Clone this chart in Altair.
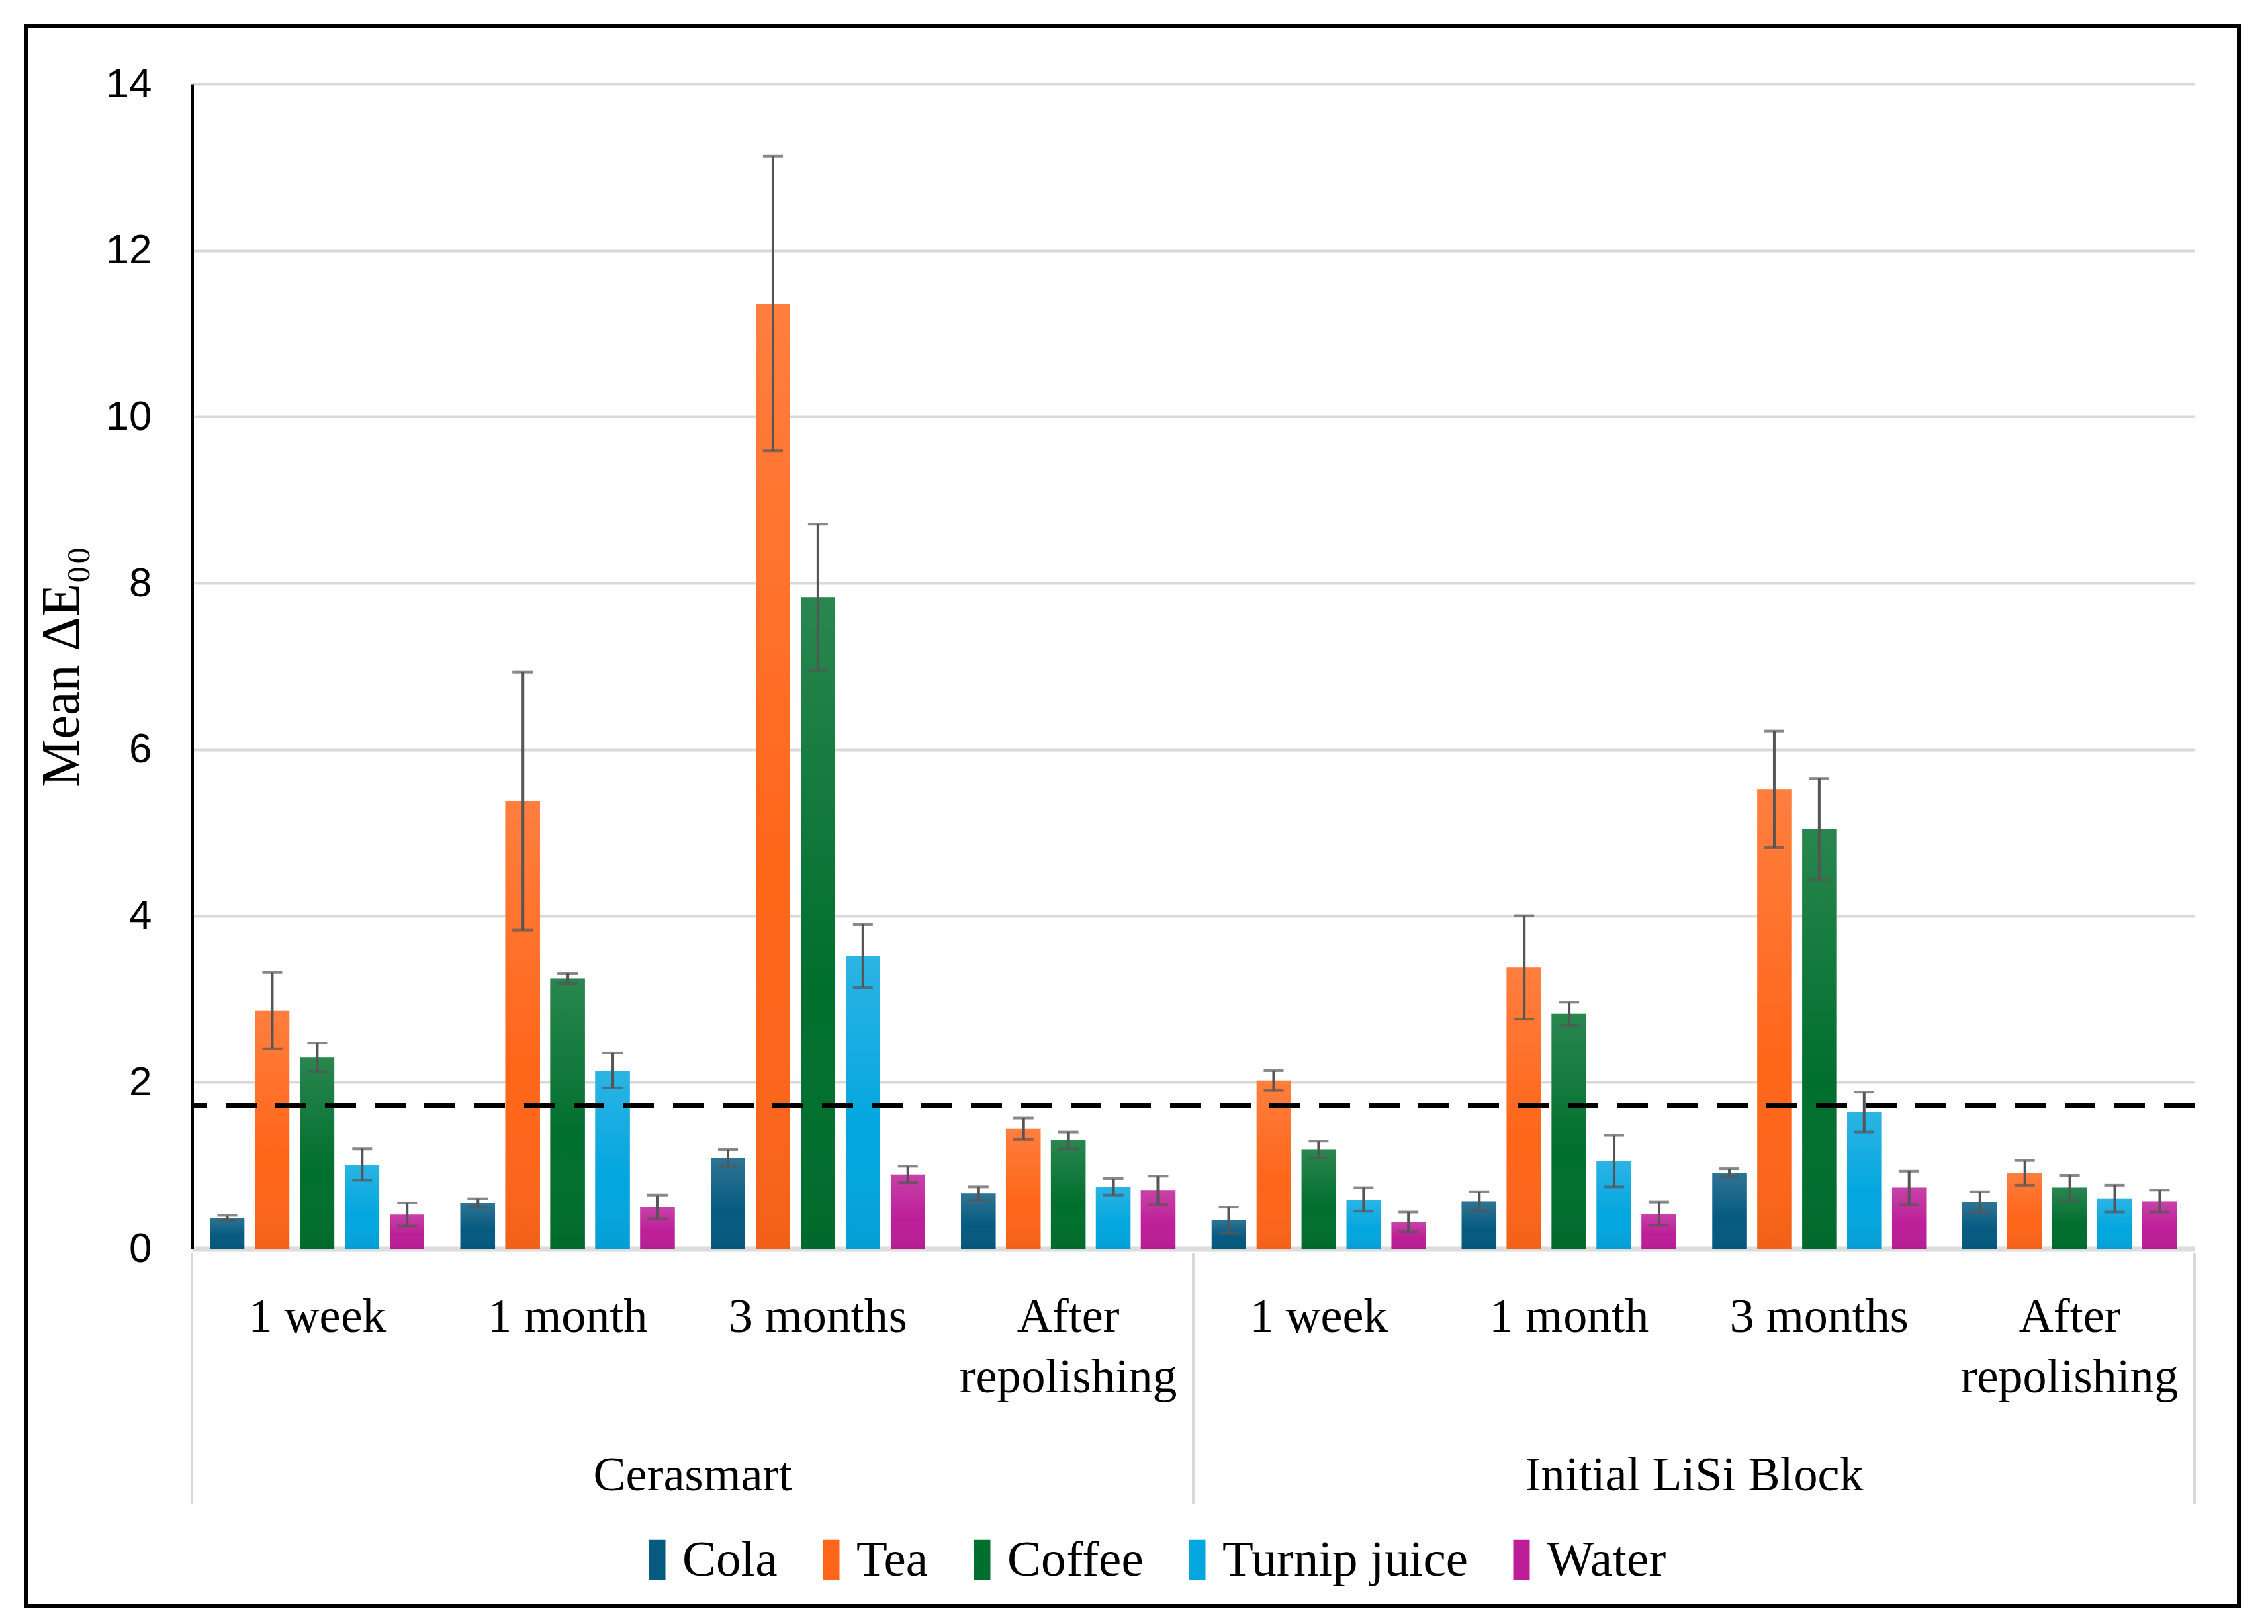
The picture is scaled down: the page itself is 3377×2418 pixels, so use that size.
import altair as alt
import pandas as pd

groups = ["Cerasmart", "Initial LiSi Block"]
times = ["1 week", "1 month", "3 months", "After repolishing"]
drinks = ["Cola", "Tea", "Coffee", "Turnip juice", "Water"]
colors = ["#065a80", "#ff661a", "#006f2d", "#03a6df", "#bd1e98"]

# Cerasmart: mean and SD per time point
cer_cola = [0.37, 0.55, 1.09, 0.66]
cer_tea = [2.86, 5.38, 11.36, 1.44]
cer_coffee = [2.30, 3.25, 7.83, 1.30]
cer_turnip = [1.01, 2.14, 3.52, 0.74]
cer_water = [0.41, 0.50, 0.89, 0.70]
cer_cola_sd = [0.03, 0.05, 0.10, 0.08]
cer_tea_sd = [0.46, 1.55, 1.77, 0.13]
cer_coffee_sd = [0.17, 0.06, 0.88, 0.10]
cer_turnip_sd = [0.19, 0.21, 0.38, 0.10]
cer_water_sd = [0.14, 0.14, 0.10, 0.17]

# Initial LiSi Block: mean and SD per time point
lisi_cola = [0.34, 0.57, 0.91, 0.56]
lisi_tea = [2.02, 3.38, 5.52, 0.91]
lisi_coffee = [1.19, 2.82, 5.04, 0.73]
lisi_turnip = [0.59, 1.05, 1.64, 0.60]
lisi_water = [0.32, 0.42, 0.73, 0.57]
lisi_cola_sd = [0.16, 0.11, 0.05, 0.12]
lisi_tea_sd = [0.12, 0.62, 0.70, 0.15]
lisi_coffee_sd = [0.10, 0.14, 0.61, 0.15]
lisi_turnip_sd = [0.14, 0.31, 0.24, 0.16]
lisi_water_sd = [0.12, 0.14, 0.20, 0.13]

threshold = 1.72

means = {
    "Cerasmart": [cer_cola, cer_tea, cer_coffee, cer_turnip, cer_water],
    "Initial LiSi Block": [lisi_cola, lisi_tea, lisi_coffee, lisi_turnip, lisi_water],
}
sds = {
    "Cerasmart": [cer_cola_sd, cer_tea_sd, cer_coffee_sd, cer_turnip_sd, cer_water_sd],
    "Initial LiSi Block": [lisi_cola_sd, lisi_tea_sd, lisi_coffee_sd, lisi_turnip_sd, lisi_water_sd],
}

rows = []
for g in groups:
    for ti, t in enumerate(times):
        for di, d in enumerate(drinks):
            m = means[g][di][ti]
            s = sds[g][di][ti]
            rows.append(dict(key=f"{g}|{t}", group=g, time=t, drink=d,
                             mean=m, lo=m - s, hi=m + s))
df = pd.DataFrame(rows)
keys = [f"{g}|{t}" for g in groups for t in times]

W, H = 2982, 1734
SERIF = "Liberation Serif"
SANS = "Liberation Sans"

label_expr = ("split(datum.label, '|')[1] == 'After repolishing' ? "
              "['After', 'repolishing'] : split(datum.label, '|')[1]")

xscale = alt.Scale(domain=keys, paddingInner=0, paddingOuter=0)
xenc = alt.X("key:N", sort=keys, scale=xscale,
             axis=alt.Axis(title=None, labelExpr=label_expr, labelFont=SERIF,
                           labelFontSize=72, labelColor="black", labelAngle=0,
                           labelPadding=66, labelLineHeight=90, labelLimit=0,
                           labelOverlap=False, ticks=False, tickSize=0,
                           domainColor="#dcdcdc", domainWidth=8, grid=False))
xoff = alt.XOffset("drink:N", sort=drinks,
                   scale=alt.Scale(domain=drinks, paddingInner=0.23, paddingOuter=0.4))
yscale = alt.Scale(domain=[0, 14], nice=False)
yenc = alt.Y("mean:Q", scale=yscale,
             axis=alt.Axis(title="Mean ΔE₀₀", values=list(range(0, 15, 2)), format="d",
                           labelFont=SANS, labelFontSize=62, labelColor="black",
                           labelPadding=60, ticks=False, tickSize=0,
                           domainColor="black", domainWidth=5,
                           gridColor="#d9d9d9", gridWidth=4,
                           titleFont=SERIF, titleFontSize=80, titleFontWeight="normal",
                           titleColor="black", titlePadding=24))

bars = alt.Chart(df).mark_bar().encode(
    x=xenc, xOffset=xoff, y=yenc,
    color=alt.Color("drink:N", sort=drinks,
                    scale=alt.Scale(domain=drinks, range=colors),
                    legend=alt.Legend(title=None, orient="none", direction="horizontal",
                                      legendX=655, legendY=2160,
                                      symbolType="M-1,-2.5L1,-2.5L1,2.5L-1,2.5Z",
                                      symbolSize=576, symbolStrokeWidth=0,
                                      labelFont=SERIF, labelFontSize=75,
                                      labelColor="black", labelOffset=0,
                                      columnPadding=42, labelLimit=0)),
)

shade = alt.Chart(df).mark_bar(
    color=alt.Gradient(gradient="linear", x1=0, x2=0, y1=0, y2=1,
                       stops=[alt.GradientStop(color="rgba(255,255,255,0.16)", offset=0),
                              alt.GradientStop(color="rgba(255,255,255,0.0)", offset=0.6),
                              alt.GradientStop(color="rgba(0,0,0,0.05)", offset=1)])
).encode(x=alt.X("key:N", sort=keys, scale=xscale), xOffset=xoff,
         y=alt.Y("mean:Q", scale=yscale))

ERR = "#555555"
err = alt.Chart(df).mark_rule(color=ERR, strokeWidth=4).encode(
    x=alt.X("key:N", sort=keys, scale=xscale), xOffset=xoff,
    y=alt.Y("lo:Q", scale=yscale), y2="hi:Q")
cap_lo = alt.Chart(df).mark_tick(color=ERR, thickness=4, size=30, orient="horizontal").encode(
    x=alt.X("key:N", sort=keys, scale=xscale), xOffset=xoff,
    y=alt.Y("lo:Q", scale=yscale))
cap_hi = alt.Chart(df).mark_tick(color=ERR, thickness=4, size=30, orient="horizontal").encode(
    x=alt.X("key:N", sort=keys, scale=xscale), xOffset=xoff,
    y=alt.Y("hi:Q", scale=yscale))

thr = alt.Chart(pd.DataFrame({"t": [threshold]})).mark_rule(
    color="black", strokeWidth=8, strokeDash=[46, 28]).encode(
    y=alt.Y("t:Q", scale=yscale))

glabels = pd.DataFrame({"group": groups, "key": [f"{g}|{times[2]}" for g in groups]})
gtext = alt.Chart(glabels).mark_text(font=SERIF, fontSize=72, color="black",
                                     baseline="middle", align="center").encode(
    x=alt.X("key:N", sort=keys, scale=xscale, bandPosition=0),
    y=alt.value(H + 338), text="group:N")

sep_start = pd.DataFrame({"key": [f"{g}|{times[0]}" for g in groups]})
sep_end = pd.DataFrame({"key": [f"{groups[-1]}|{times[-1]}"]})
sep1 = alt.Chart(sep_start).mark_rule(color="#d9d9d9", strokeWidth=4).encode(
    x=alt.X("key:N", sort=keys, scale=xscale, bandPosition=0),
    y=alt.value(H + 6), y2=alt.value(H + 381))
sep2 = alt.Chart(sep_end).mark_rule(color="#d9d9d9", strokeWidth=4).encode(
    x=alt.X("key:N", sort=keys, scale=xscale, bandPosition=1),
    y=alt.value(H + 6), y2=alt.value(H + 381))

border = alt.Chart(pd.DataFrame({"a": [0]})).mark_rect(
    fillOpacity=0, stroke="black", strokeWidth=6).encode(
    x=alt.value(-247), x2=alt.value(W + 66), y=alt.value(-86), y2=alt.value(H + 532))

chart = alt.layer(bars, shade, err, cap_lo, cap_hi, thr, gtext, sep1, sep2, border).properties(
    width=W, height=H,
    autosize=alt.AutoSizeParams(type="none"),
    padding={"left": 278, "top": 117, "right": 90, "bottom": 540},
).configure_view(stroke=None)

chart.save("out.html", embed_options={"renderer": "svg", "actions": False})
